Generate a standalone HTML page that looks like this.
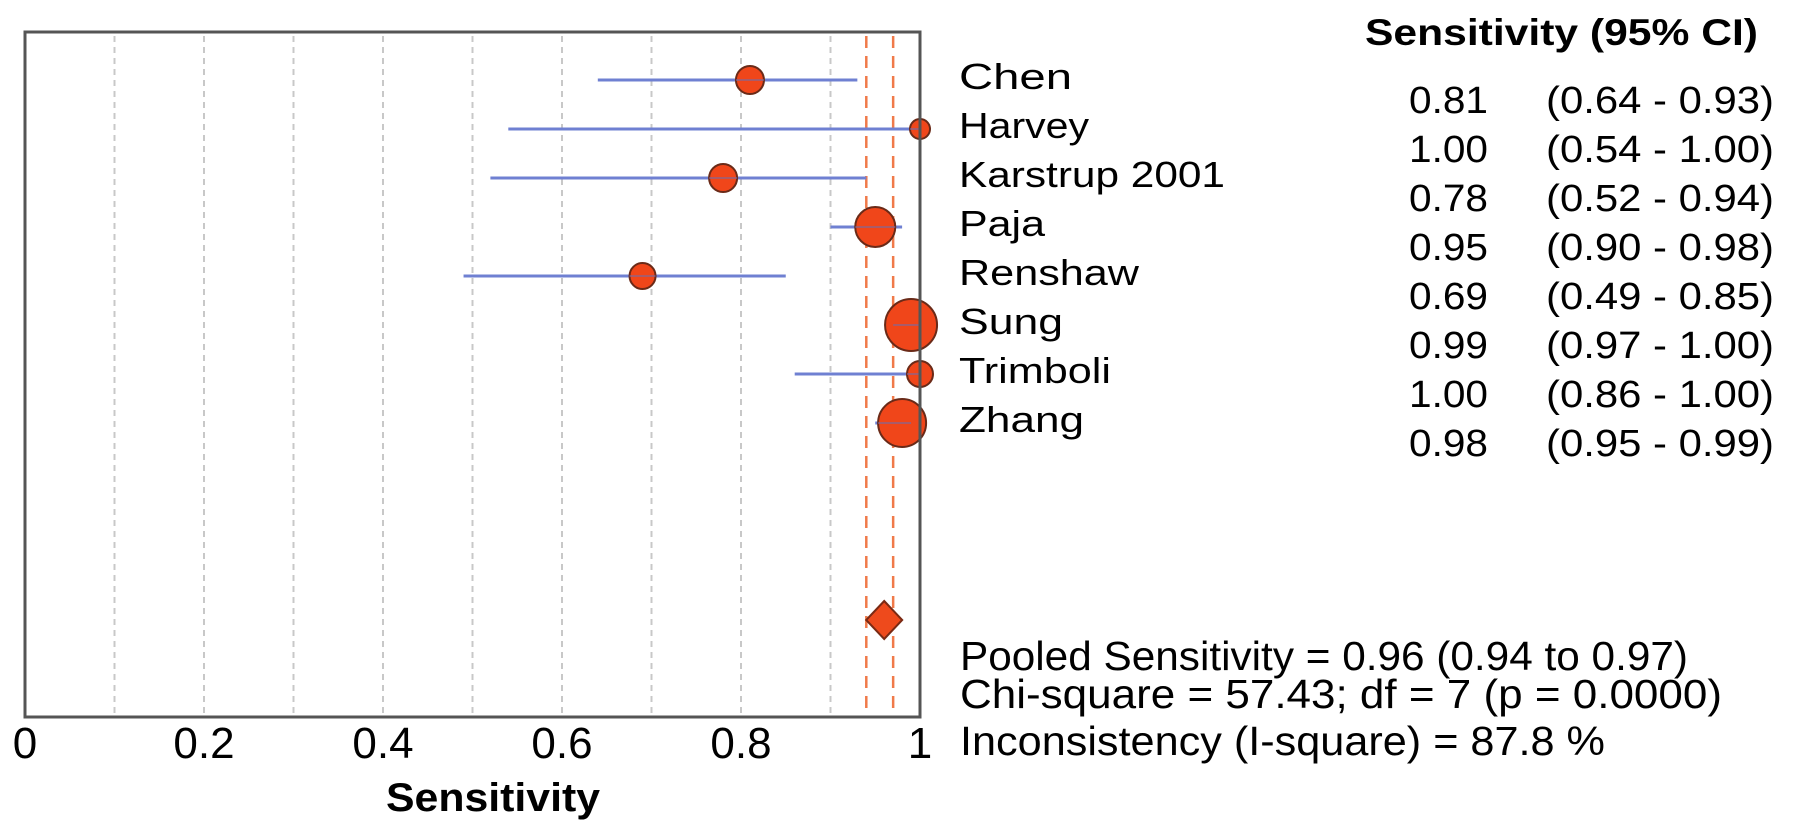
<!DOCTYPE html>
<html><head><meta charset="utf-8"><style>
html,body{margin:0;padding:0;background:#fff;}
svg{display:block;font-family:"Liberation Sans",Arial,sans-serif;}
</style></head><body>
<svg id="chart" width="1795" height="835" viewBox="0 0 1795 835" xmlns="http://www.w3.org/2000/svg">
<g id="grid"></g>
<g id="pooled"></g>
<g id="marks"></g>
<rect x="25" y="32" width="895" height="685" fill="none" stroke="#555" stroke-width="3"/>
<g id="ticks"></g>
<text x="493" y="811" font-size="40" font-weight="bold" text-anchor="middle" textLength="214" lengthAdjust="spacingAndGlyphs">Sensitivity</text>
<text x="1365" y="45" font-size="37" font-weight="bold" textLength="393" lengthAdjust="spacingAndGlyphs">Sensitivity (95% CI)</text>
<g id="names"></g>
<g id="vals"></g>
<text x="960" y="670" font-size="41" textLength="728" lengthAdjust="spacingAndGlyphs">Pooled Sensitivity = 0.96 (0.94 to 0.97)</text>
<text x="960" y="708" font-size="41" textLength="762" lengthAdjust="spacingAndGlyphs">Chi-square = 57.43; df =  7 (p = 0.0000)</text>
<text x="960" y="755" font-size="41" textLength="645" lengthAdjust="spacingAndGlyphs">Inconsistency (I-square) = 87.8 %</text>
</svg>
<script>
const studies = ["Chen","Harvey","Karstrup 2001","Paja","Renshaw","Sung","Trimboli","Zhang"];
const estimates = [0.81,1.00,0.78,0.95,0.69,0.99,1.00,0.98];
const lowerCI = [0.64,0.54,0.52,0.90,0.49,0.97,0.86,0.95];
const upperCI = [0.93,1.00,0.94,0.98,0.85,1.00,1.00,0.99];
const weights = [14,10,14,20,13,26,13,24];
const nameWidths = [113,130,266,86,180,104,152,125];
const pooledEst = 0.96;
const pooledLo = 0.94;
const pooledHi = 0.97;
const tickValues = [0,0.2,0.4,0.6,0.8,1];
const tickLabels = ["0","0.2","0.4","0.6","0.8","1"];
const gridValues = [0.1,0.2,0.3,0.4,0.5,0.6,0.7,0.8,0.9];

const NS="http://www.w3.org/2000/svg";
const X0=25, X1=920, TOP=32, BOT=717;
function xs(v){return X0+v*(X1-X0);}
function ys(i){return 80+49*i;}
function mk(tag,attrs,parent){const e=document.createElementNS(NS,tag);for(const k in attrs)e.setAttribute(k,attrs[k]);parent.appendChild(e);return e;}
function f2(v){return v.toFixed(2);}

const grid=document.getElementById('grid');
gridValues.forEach(g=>{
  const l=mk('line',{x1:xs(g),x2:xs(g),y1:TOP+4,y2:BOT-2,stroke:'#c8c8c8','stroke-width':2,'stroke-dasharray':'6,5'},grid);
  
  
});

const pooled=document.getElementById('pooled');
[pooledLo,pooledHi].forEach(v=>{
  const l=mk('line',{x1:xs(v),x2:xs(v),y1:TOP+4,y2:BOT-2,stroke:'#f07a4a','stroke-width':2.5,'stroke-dasharray':'12,8'},pooled);
  
  
});
const px=xs(pooledEst), py=620;
const d=mk('polygon',{points:`${px},${py-19} ${px+18},${py} ${px},${py+19} ${px-18},${py}`,fill:'#ee4a1c',stroke:'#7a2a14','stroke-width':2},pooled);



const marks=document.getElementById('marks');
const names=document.getElementById('names');
const vals=document.getElementById('vals');
studies.forEach((s,i)=>{
  const y=ys(i);
  const l=mk('line',{x1:xs(lowerCI[i]),x2:xs(upperCI[i]),y1:y,y2:y,stroke:'#6f80d2','stroke-width':3},marks);
  
  
  const c=mk('circle',{cx:xs(estimates[i]),cy:y,r:weights[i],fill:'#f0461a',stroke:'#6a2a18','stroke-width':2},marks);
  
  
  const mline=mk('line',{x1:Math.max(xs(lowerCI[i]),xs(estimates[i])-weights[i]),x2:Math.min(xs(upperCI[i]),xs(estimates[i])+weights[i]),y1:y,y2:y,stroke:'#7a6aa0','stroke-width':2,opacity:0.6},marks);
  
  
  const t=mk('text',{x:959,y:y+9,'font-size':36,textLength:nameWidths[i],lengthAdjust:'spacingAndGlyphs'},names);
  t.textContent=s;
  
  
  const vy=100+49*i+13;
  const v=mk('text',{x:1409,y:vy,'font-size':38,textLength:79,lengthAdjust:'spacingAndGlyphs'},vals);
  v.textContent=f2(estimates[i]);
  
  
  const ci=mk('text',{x:1546,y:vy,'font-size':38,textLength:228,lengthAdjust:'spacingAndGlyphs'},vals);
  ci.textContent='('+f2(lowerCI[i])+' - '+f2(upperCI[i])+')';
  
  
});

const ticks=document.getElementById('ticks');
tickValues.forEach((v,i)=>{
  const t=mk('text',{x:xs(v),y:758,'font-size':44,'text-anchor':'middle'},ticks);
  t.textContent=tickLabels[i];
  
  
});
</script>
</body></html>
